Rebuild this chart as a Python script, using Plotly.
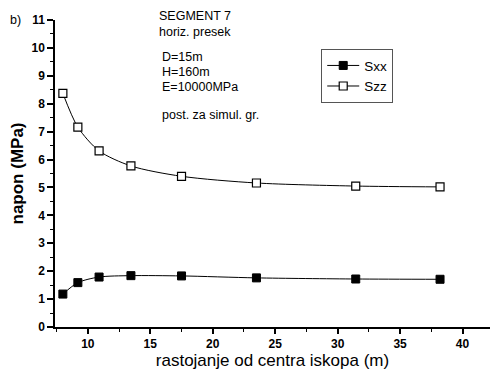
import plotly.graph_objects as go

x_vals = [8.0, 9.2, 10.9, 13.45, 17.5, 23.5, 31.45, 38.2]
sxx = [1.18, 1.59, 1.79, 1.84, 1.83, 1.76, 1.72, 1.71]
szz = [8.37, 7.16, 6.31, 5.77, 5.40, 5.16, 5.05, 5.02]

FONT = "Liberation Sans, Arial, sans-serif"

fig = go.Figure()
fig.add_trace(go.Scatter(
    x=x_vals, y=sxx, name="Sxx", mode="lines+markers",
    line=dict(color="black", width=1, shape="spline", smoothing=0.8),
    marker=dict(symbol="square", size=8, color="black", line=dict(color="black", width=1)),
))
fig.add_trace(go.Scatter(
    x=x_vals, y=szz, name="Szz", mode="lines+markers",
    line=dict(color="black", width=1, shape="spline", smoothing=0.8),
    marker=dict(symbol="square", size=8, color="white", line=dict(color="black", width=1.2)),
))

fig.update_layout(
    width=490, height=372,
    margin=dict(l=55, r=0, t=20, b=45),
    paper_bgcolor="white", plot_bgcolor="white",
    font=dict(family=FONT, color="black", size=12),
    showlegend=True,
    legend=dict(
        x=0.612, y=0.905, xanchor="left", yanchor="top",
        bordercolor="#555", borderwidth=1, bgcolor="white",
        font=dict(size=13.5, family=FONT), itemwidth=32, tracegroupgap=0,
    ),
    xaxis=dict(
        range=[7.37, 42.2], showgrid=False, zeroline=False,
        showline=True, linecolor="black", linewidth=1.5,
        ticks="outside", ticklen=5, tickwidth=1.5, tickcolor="black",
        tickvals=[10, 15, 20, 25, 30, 35, 40],
        tickfont=dict(size=12, family=FONT, weight="bold"),
        minor=dict(tickvals=[7.5, 12.5, 17.5, 22.5, 27.5, 32.5, 37.5], ticks="outside", ticklen=3, tickwidth=1, tickcolor="black"),
        title=dict(text="rastojanje od centra iskopa (m)", font=dict(size=17, family=FONT), standoff=4),
    ),
    yaxis=dict(
        range=[0, 11], showgrid=False, zeroline=False,
        showline=True, linecolor="black", linewidth=1.5,
        ticks="outside", ticklen=6, tickwidth=1.5, tickcolor="black",
        tickvals=list(range(0, 12)),
        tickfont=dict(size=12, family=FONT, weight="bold"),
        minor=dict(tickvals=[i + 0.5 for i in range(11)], ticks="outside", ticklen=3, tickwidth=1, tickcolor="black"),
        title=dict(text="napon (MPa)", font=dict(size=17, family=FONT, weight="bold"), standoff=4),
    ),
)

notes = [
    ("SEGMENT 7", 16), ("horiz. presek", 32),
    ("D=15m", 57), ("H=160m", 72), ("E=10000MPa", 87),
    ("post. za simul. gr.", 115),
]
for txt, ypix in notes:
    xoff = 157 if ypix < 40 else 160
    fig.add_annotation(
        text=txt, xref="paper", yref="paper",
        x=(xoff - 55) / 435, y=1 - (ypix - 20) / 307,
        xanchor="left", yanchor="middle", showarrow=False,
        font=dict(size=12.5, family=FONT),
    )
fig.add_annotation(
    text="b)", xref="paper", yref="paper", x=(8 - 55) / 435, y=1,
    xanchor="left", yanchor="middle", showarrow=False, font=dict(size=12.5, family=FONT),
)

fig.write_html("out.html", config={"displayModeBar": False})
